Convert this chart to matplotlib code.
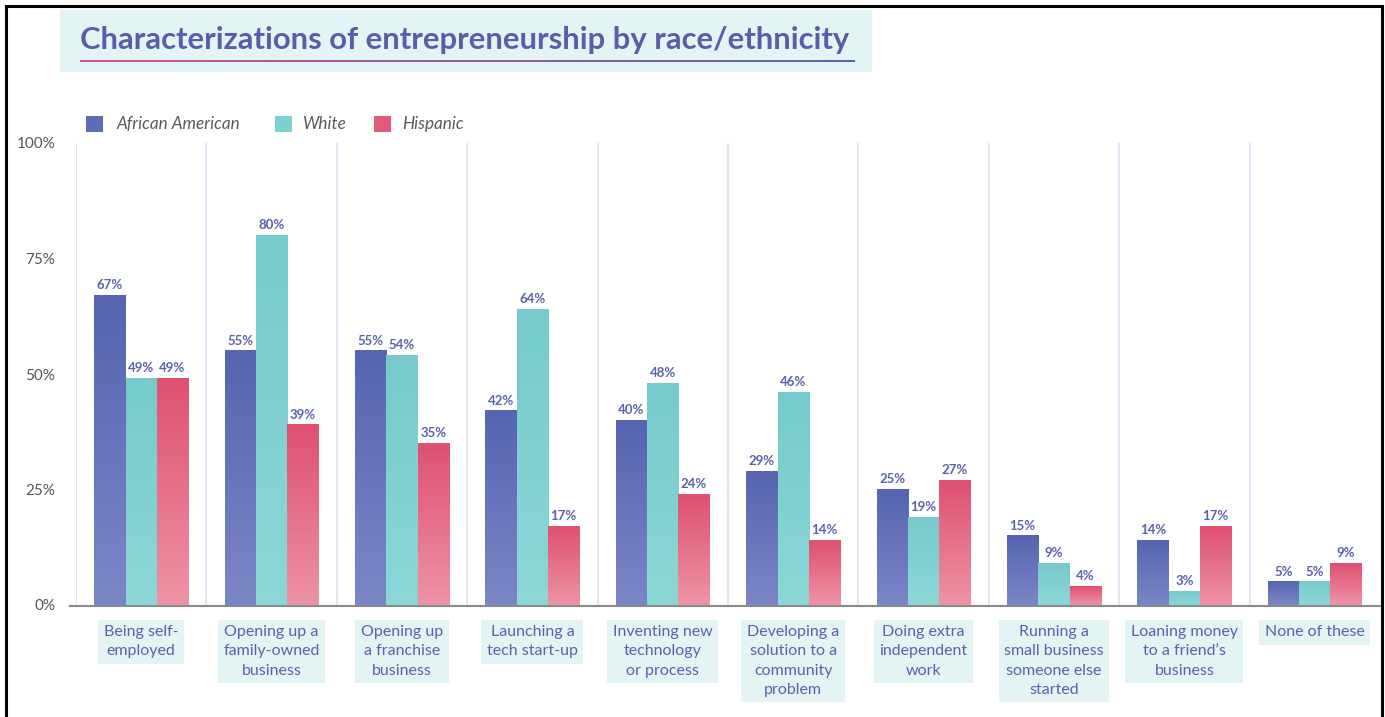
import numpy as np
import matplotlib
matplotlib.use("Agg")
import matplotlib.pyplot as plt
from matplotlib.patches import Rectangle
from matplotlib.colors import to_rgb

# ---------------- data ----------------
categories = [
    "Being self-\nemployed",
    "Opening up a\nfamily-owned\nbusiness",
    "Opening up\na franchise\nbusiness",
    "Launching a\ntech start-up",
    "Inventing new\ntechnology\nor process",
    "Developing a\nsolution to a\ncommunity\nproblem",
    "Doing extra\nindependent\nwork",
    "Running a\nsmall business\nsomeone else\nstarted",
    "Loaning money\nto a friend\u2019s\nbusiness",
    "None of these",
]
series_names = ["African American", "White", "Hispanic"]
african_american = [67, 55, 55, 42, 40, 29, 25, 15, 14, 5]
white = [49, 80, 54, 64, 48, 46, 19, 9, 3, 5]
hispanic = [49, 39, 35, 17, 24, 14, 27, 4, 17, 9]
yticks = [0, 25, 50, 75, 100]
ytick_labels = ["0%", "25%", "50%", "75%", "100%"]
title = "Characterizations of entrepreneurship by race/ethnicity"

# ---------------- style ----------------
FONT = "Lato"
plt.rcParams["font.family"] = [FONT, "DejaVu Sans"]
grad_colors = [("#5665B1", "#7B86C6"), ("#76CACB", "#8CD7D8"), ("#DE5170", "#EE93A5")]
legend_colors = ["#5F6DB6", "#7DD0D0", "#E25A75"]
label_color = "#5962AC"
box_color = "#E3F4F5"

W, H = 1385, 717
fig = plt.figure(figsize=(W / 100, H / 100), dpi=100)
fig.patch.set_facecolor("white")

def fx(px):
    return px / W

def fy(py):
    return 1 - py / H

# border
fig.add_artist(Rectangle((fx(6), fy(717 + 5)), fx(1382 - 6), (717 + 5 - 6) / H,
                         transform=fig.transFigure, fill=False, edgecolor="black",
                         linewidth=2.2, zorder=0))

ax_left, ax_right = 76, 1380
ax_top, ax_bottom = 143, 605
ax = fig.add_axes([fx(ax_left), fy(ax_bottom), (ax_right - ax_left) / W, (ax_bottom - ax_top) / H])
ax.set_facecolor("none")
n = len(categories)
ax.set_xlim(-0.5, n - 0.5)
ax.set_ylim(0, 100)
for s in ax.spines.values():
    s.set_visible(False)
ax.set_xticks([])
ax.set_yticks(yticks)
ax.set_yticklabels(ytick_labels, fontsize=11, color="#555555", family=FONT)
ax.tick_params(axis="y", length=0, pad=15)

# separators
for i in range(n):
    ax.axvline(i - 0.5, color="#DCDFF0", linewidth=1.2, zorder=1)

bw = 0.24
data = [african_american, white, hispanic]
for k, vals in enumerate(data):
    top_c, bot_c = (np.array(to_rgb(c)) for c in grad_colors[k])
    for i, v in enumerate(vals):
        x0 = i + (k - 1.5) * bw
        t = np.linspace(0, 1, 64)[:, None, None]
        img = top_c[None, None, :] * (1 - t) + bot_c[None, None, :] * t
        ax.imshow(img, extent=(x0, x0 + bw, 0, v), aspect="auto", origin="upper",
                  zorder=2, interpolation="bilinear")
        ax.text(x0 + bw / 2, v + 0.9, f"{v}%", ha="center", va="bottom",
                fontsize=9.5, fontweight="bold", color=label_color, zorder=3)
ax.set_xlim(-0.5, n - 0.5)
ax.set_ylim(0, 100)

# baseline
fig.add_artist(plt.Line2D([fx(70), fx(1380)], [fy(606), fy(606)], color="#8A8A8A",
                          linewidth=1.5, transform=fig.transFigure, zorder=4))

# category labels
for i, c in enumerate(categories):
    ax.text(i, -4.4, c, ha="center", va="top", fontsize=11.5, color=label_color,
            linespacing=1.47, clip_on=False,
            bbox=dict(boxstyle="square,pad=0.35", facecolor=box_color, edgecolor="none"))

# title block
fig.add_artist(Rectangle((fx(60), fy(72)), fx(872 - 60), (72 - 10) / H,
                         transform=fig.transFigure, facecolor=box_color, edgecolor="none",
                         zorder=0.5))
fig.text(fx(80), fy(40), title, ha="left", va="center", fontsize=22.3,
         fontweight="bold", color="#5660AA", zorder=3)
# gradient underline
ul = fig.add_axes([fx(80), fy(62), fx(855 - 80), 2 / H])
ul.set_zorder(5)
ul.axis("off")
c1, c2 = np.array(to_rgb("#D45490")), np.array(to_rgb("#5564B0"))
tt = np.linspace(0, 1, 256)[None, :, None]
ul.imshow(c1[None, None, :] * (1 - tt) + c2[None, None, :] * tt, aspect="auto",
          extent=(0, 1, 0, 1), interpolation="bilinear")
ul.set_xlim(0, 1)
ul.set_ylim(0, 1)

# legend
leg_sq = [86, 275, 374]
leg_tx = [117, 303, 402]
for name, col, sx, tx in zip(series_names, legend_colors, leg_sq, leg_tx):
    fig.add_artist(Rectangle((fx(sx), fy(132)), fx(17), 16 / H, transform=fig.transFigure,
                             facecolor=col, edgecolor="none"))
    fig.text(fx(tx), fy(124), name, ha="left", va="center", fontsize=12.3,
             style="italic", color="#5A5A5A")

fig.savefig("out.png", dpi=100)
